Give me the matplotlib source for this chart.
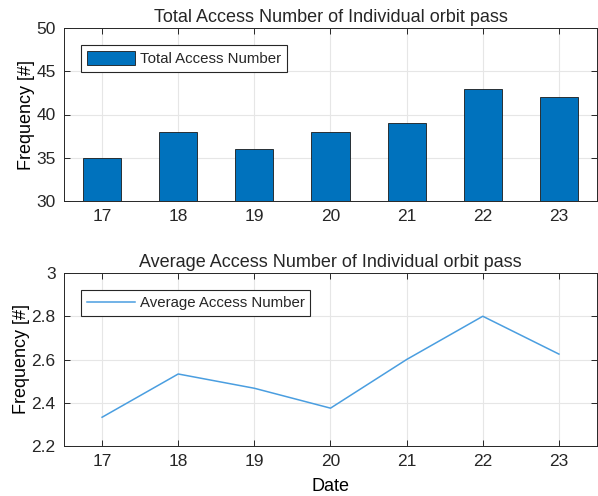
import matplotlib.pyplot as plt

# daily access statistics
dates = [17, 18, 19, 20, 21, 22, 23]
total_access = [35, 38, 36, 38, 39, 43, 42]
avg_access = [2.333, 2.533, 2.467, 2.375, 2.6, 2.8, 2.625]

plt.rcParams['font.family'] = 'Liberation Sans'
plt.rcParams['text.color'] = '#262626'

fig = plt.figure(figsize=(5.98, 4.96), dpi=100)
W, H = 598.0, 496.0
ax1 = fig.add_axes([64/W, 1-201/H, 533/W, 173/H])
ax2 = fig.add_axes([64/W, 1-446/H, 533/W, 173/H])

def style(ax):
    ax.grid(True, color='#e6e6e6', lw=0.8)
    ax.set_axisbelow(True)
    for s in ax.spines.values():
        s.set_color('#262626')
        s.set_linewidth(0.7)
    ax.tick_params(direction='in', top=True, right=True, length=4,
                   width=0.7, color='#262626', labelcolor='#262626',
                   labelsize=12.5, pad=6)
    ax.set_xlim(16.5, 23.5)
    ax.set_xticks(dates)

def legend(ax, **kw):
    leg = ax.legend(loc='upper left', bbox_to_anchor=(0.032, 0.902), fontsize=10.8,
                    fancybox=False, edgecolor='#262626', framealpha=1,
                    borderaxespad=0, handlelength=3.2, handletextpad=0.3,
                    borderpad=0.4, **kw)
    leg.get_frame().set_linewidth(0.8)

# top: bar chart of totals
ax1.bar(dates, total_access, width=0.5, color='#0072BD', edgecolor='#1a1a1a',
        linewidth=0.6, label='Total Access Number')
style(ax1)
ax1.set_ylim(30, 50)
ax1.set_yticks([30, 35, 40, 45, 50])
ax1.set_title('Total Access Number of Individual orbit pass', fontsize=13, pad=4)
ax1.set_ylabel('Frequency [#]', fontsize=13, labelpad=1)
legend(ax1, handleheight=1.1)

# bottom: line chart of averages
ax2.plot(dates, avg_access, color='#4a9ee0', lw=1.1, label='Average Access Number')
style(ax2)
ax2.set_ylim(2.2, 3.0)
ax2.set_yticks([2.2, 2.4, 2.6, 2.8, 3.0])
ax2.set_yticklabels(['2.2', '2.4', '2.6', '2.8', '3'])
ax2.set_title('Average Access Number of Individual orbit pass', fontsize=13, pad=4)
ax2.set_ylabel('Frequency [#]', fontsize=13, labelpad=1)
ax2.set_xlabel('Date', fontsize=13, labelpad=6)
legend(ax2)

fig.savefig('out.png', dpi=100)
